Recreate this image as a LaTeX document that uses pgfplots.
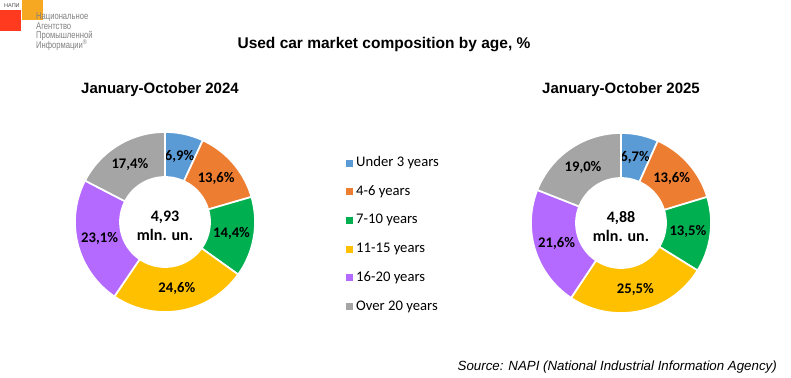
\documentclass[border=0pt]{standalone}
\usepackage{pgfplots}
\pgfplotsset{compat=1.18}
\usepackage{fontspec}
\setmainfont{Liberation Sans}
\newfontfamily\calfont{Carlito}
\definecolor{c1}{HTML}{5B9BD5}
\definecolor{c2}{HTML}{ED7D31}
\definecolor{c3}{HTML}{00B050}
\definecolor{c4}{HTML}{FFC000}
\definecolor{c5}{HTML}{B469FF}
\definecolor{c6}{HTML}{A5A5A5}
\definecolor{logored}{HTML}{FF3A1E}
\definecolor{logoorange}{HTML}{F7A823}
\definecolor{logogray}{HTML}{7F7F7F}
\newcommand{\fs}[1]{\fontsize{#1}{#1}\selectfont}
% cx, cy, start, value, total, colour, label
\newcommand{\sector}[7]{%
  \addplot[fill=#6, draw=white, line width=1.7pt, domain=0:2.3, samples=231, variable=\t]
    ({#1+RR(\t)*sin(TH(\t,360*(#3)/(#5),360*(#3+#4)/(#5)))},
     {#2-RR(\t)*cos(TH(\t,360*(#3)/(#5),360*(#3+#4)/(#5)))});
  \node[font=\calfont\bfseries\fs{14.67}] at (axis cs:{#1+67.5*sin(360*(#3+0.5*(#4))/(#5))},{#2-67.5*cos(360*(#3+0.5*(#4))/(#5))}) {#7};
}
\newcommand{\legitem}[3]{%
  \addplot[only marks, mark=square*, mark size=3pt, color=#1, mark options={draw=none, fill=#1}] coordinates {(349,#2)};
  \node[anchor=west, font=\calfont\fs{14.67}, inner sep=0pt] at (axis cs:356,#2) {#3};
}
\begin{document}
\begin{tikzpicture}
\useasboundingbox (0,0) rectangle (791pt,377pt);
\begin{axis}[
  at={(0,0)}, anchor=south west,
  x=1pt, y=1pt, xmin=0, xmax=791, ymin=0, ymax=377, y dir=reverse,
  hide axis, clip=false,
  declare function={
    RR(\s)=((\s<=1.05)||(\s>2.25)) ? 90 : 45;
    TH(\s,\p,\q)=(\s<=1.05) ? (\p+(\q-\p)*min(\s,1)) : ((\s<=2.25) ? (\q-(\q-\p)*min(max(\s-1.1,0),1)) : \p);
  }
]
% logo
\fill[logored] (axis cs:0,10) rectangle (axis cs:21,31);
\fill[logoorange] (axis cs:22,0) rectangle (axis cs:43,20);
\node[anchor=west, inner sep=0pt, font=\fs{5.5}, text=black!70] at (axis cs:4,6) {НАПИ};
\node[anchor=north west, inner sep=0pt, align=left, font={\fontsize{9.3}{9.2}\selectfont}, text=logogray, xscale=0.82, yscale=1.05] at (axis cs:36,12.5) {Национальное\\Агентство\\Промышленной\\Информации\smash{\textsuperscript{®}}};
% titles
\node[font=\bfseries\fs{15.5}] at (axis cs:384,45) {Used car market composition by age, \%};
\node[font=\bfseries\fs{15}] at (axis cs:160,90) {January-October 2024};
\node[font=\bfseries\fs{15}] at (axis cs:621,90) {January-October 2025};
% left donut: 2024
\sector{165}{222}{0}{6.9}{100}{c1}{6,9\%}
\sector{165}{222}{6.9}{13.6}{100}{c2}{13,6\%}
\sector{165}{222}{6.9+13.6}{14.4}{100}{c3}{14,4\%}
\sector{165}{222}{6.9+13.6+14.4}{24.6}{100}{c4}{24,6\%}
\sector{165}{222}{6.9+13.6+14.4+24.6}{23.1}{100}{c5}{23,1\%}
\sector{165}{222}{6.9+13.6+14.4+24.6+23.1}{17.4}{100}{c6}{17,4\%}
\node[align=center, font=\calfont\bfseries\fs{16}, inner sep=0pt] at (axis cs:165,226) {4,93\\[3pt]mln. un.};
% right donut: 2025
\sector{621}{223}{0}{6.7}{99.9}{c1}{6,7\%}
\sector{621}{223}{6.7}{13.6}{99.9}{c2}{13,6\%}
\sector{621}{223}{6.7+13.6}{13.5}{99.9}{c3}{13,5\%}
\sector{621}{223}{6.7+13.6+13.5}{25.5}{99.9}{c4}{25,5\%}
\sector{621}{223}{6.7+13.6+13.5+25.5}{21.6}{99.9}{c5}{21,6\%}
\sector{621}{223}{6.7+13.6+13.5+25.5+21.6}{19.0}{99.9}{c6}{19,0\%}
\node[align=center, font=\calfont\bfseries\fs{16}, inner sep=0pt] at (axis cs:621,227) {4,88\\[3pt]mln. un.};
% legend
\legitem{c1}{162.7}{Under 3 years}
\legitem{c2}{191.3}{4-6 years}
\legitem{c3}{220}{7-10 years}
\legitem{c4}{248.8}{11-15 years}
\legitem{c5}{277.6}{16-20 years}
\legitem{c6}{306.5}{Over 20 years}
% source
\node[anchor=east, font=\itshape\fs{13.3}, inner sep=0pt] at (axis cs:777,367) {Source: NAPI (National Industrial Information Agency)};
\end{axis}
\end{tikzpicture}
\end{document}
